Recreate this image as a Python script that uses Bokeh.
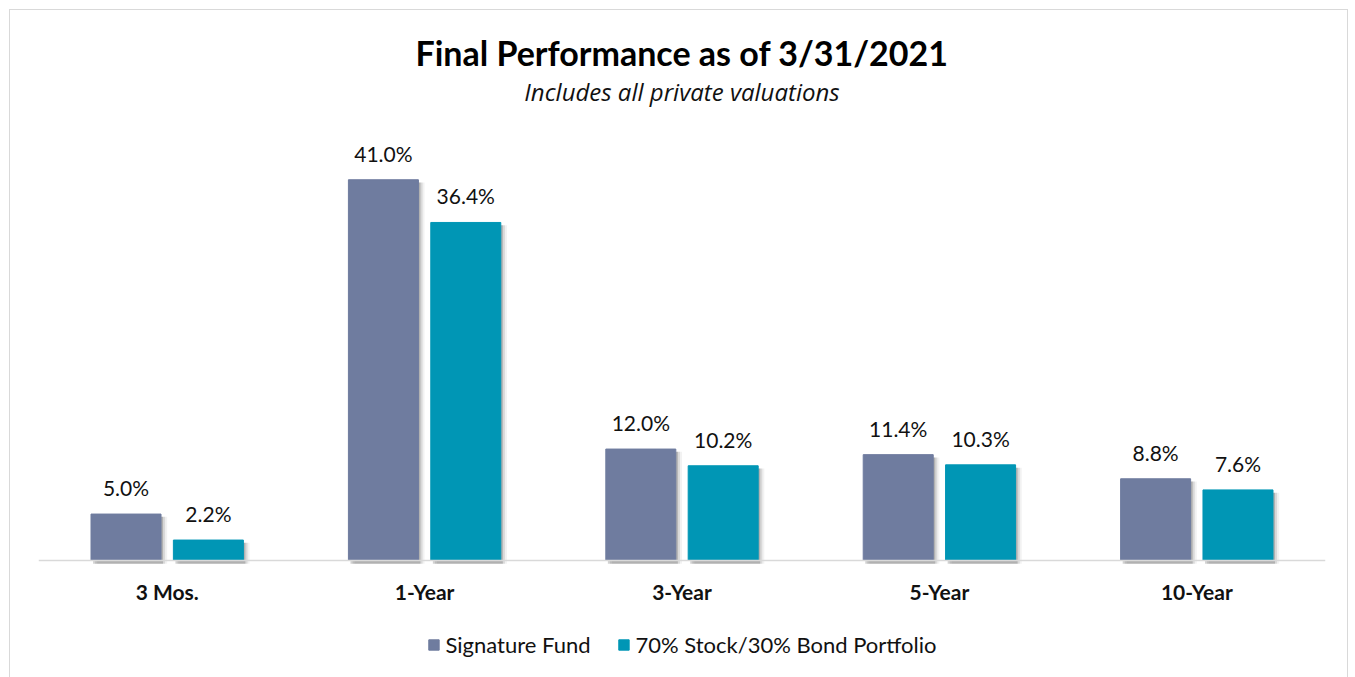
from bokeh.plotting import figure
from bokeh.models import ColumnDataSource, Title, Legend, LegendItem, FactorRange, Range1d, Span
from bokeh.transform import dodge
from bokeh.embed import file_html
from bokeh.resources import INLINE
from bokeh.core.properties import value

categories = ["3 Mos.", "1-Year", "3-Year", "5-Year", "10-Year"]
signature = [5.0, 41.0, 12.0, 11.4, 8.8]
stock_bond = [2.2, 36.4, 10.2, 10.3, 7.6]
series_names = ["Signature Fund", "70% Stock/30% Bond Portfolio"]

SIG_COLOR = "#6F7C9F"
SB_COLOR = "#0096B5"
FONT = "Lato"

src = ColumnDataSource(dict(
    cat=categories,
    zero=[0] * len(categories),
    sig=signature,
    sb=stock_bond,
    sig_sh=[v - 0.3 for v in signature],
    sb_sh=[v - 0.3 for v in stock_bond],
    sig_lbl=[f"{v:.1f}%" for v in signature],
    sb_lbl=[f"{v:.1f}%" for v in stock_bond],
))

p = figure(x_range=FactorRange(factors=categories, range_padding=0),
           y_range=Range1d(-12.6, 48.78),
           frame_width=1287, frame_height=570,
           output_backend="svg", toolbar_location=None,
           min_border_left=28, min_border_right=22, min_border_top=97, min_border_bottom=0)
p.styles = {"border": "1.5px solid #d9d9d9", "border-bottom": "none",
            "margin-left": "9px", "margin-top": "9px"}
p.outline_line_color = None
p.xgrid.visible = False
p.ygrid.visible = False
p.xaxis.visible = False
p.yaxis.visible = False

off = 0.16
bw = 0.272
# soft shadows
for dx, a in [(0.008, 0.18), (0.016, 0.10), (0.024, 0.05)]:
    p.vbar(x=dodge("cat", -off + dx, range=p.x_range), top="sig_sh", width=bw, bottom=-0.35,
           source=src, fill_color="black", fill_alpha=a, line_color=None)
    p.vbar(x=dodge("cat", off + dx, range=p.x_range), top="sb_sh", width=bw, bottom=-0.35,
           source=src, fill_color="black", fill_alpha=a, line_color=None)

r1 = p.vbar(x=dodge("cat", -off, range=p.x_range), top="sig", width=bw, source=src,
            fill_color=SIG_COLOR, line_color=SIG_COLOR)
r2 = p.vbar(x=dodge("cat", off, range=p.x_range), top="sb", width=bw, source=src,
            fill_color=SB_COLOR, line_color=SB_COLOR)

p.add_layout(Span(location=0, dimension="width", line_color="#d9d9d9", line_width=1.5))

p.text(x=dodge("cat", -off, range=p.x_range), y="sig", text="sig_lbl", source=src,
       text_align="center", text_baseline="bottom", y_offset=-14,
       text_font=value(FONT), text_font_size="21px", text_color="#111111")
p.text(x=dodge("cat", off, range=p.x_range), y="sb", text="sb_lbl", source=src,
       text_align="center", text_baseline="bottom", y_offset=-14,
       text_font=value(FONT), text_font_size="21px", text_color="#111111")

# category labels (x axis)
p.text(x="cat", y="zero", text="cat", source=src,
       text_align="center", text_baseline="middle", y_offset=31,
       text_font=value(FONT), text_font_size="21px", text_font_style="bold",
       text_color="#111111")

legend = Legend(items=[LegendItem(label=series_names[0], renderers=[r1]),
                       LegendItem(label=series_names[1], renderers=[r2])],
                orientation="horizontal", location="bottom_center",
                border_line_color=None, background_fill_alpha=0,
                label_text_font=FONT, label_text_font_size="22px", label_text_color="#111111",
                glyph_width=13, glyph_height=13, spacing=26, label_standoff=6,
                padding=4, margin=19)
p.add_layout(legend, "center")

p.add_layout(Title(text="Includes all private valuations", align="center",
                   text_font="Open Sans", text_font_size="24px", text_font_style="italic",
                   text_color="#111111", standoff=0), "above")
p.add_layout(Title(text="Final Performance as of 3/31/2021", align="center",
                   text_font=FONT, text_font_size="34px", text_font_style="bold",
                   text_color="#000000", standoff=0), "above")

open("out.html", "w").write(file_html(p, INLINE))
